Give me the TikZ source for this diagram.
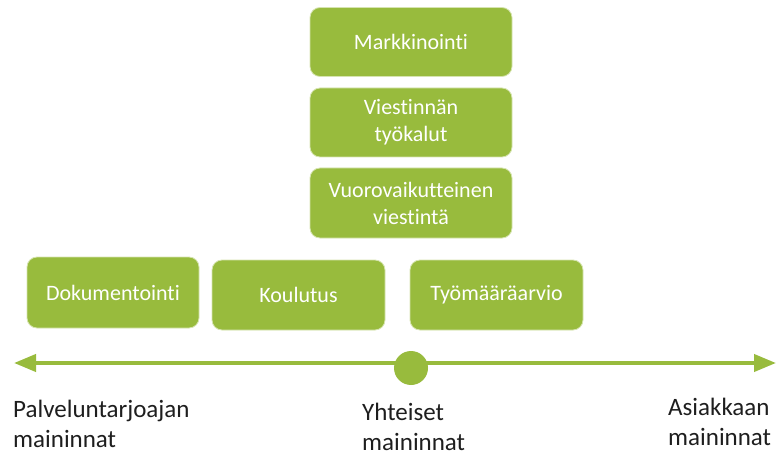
\documentclass[tikz,border=0pt]{standalone}
\usepackage{fontspec}
\setmainfont{Carlito}[Ligatures={NoCommon}]
\usetikzlibrary{arrows.meta}
\definecolor{leaf}{RGB}{152,187,61}
\definecolor{leafedge}{RGB}{214,228,176}
\definecolor{ink}{RGB}{30,30,30}
\tikzset{
  card/.style={rectangle, rounded corners=10pt, fill=leaf, draw=leafedge, line width=0.8pt,
    text=white, align=center, inner sep=0pt,
    font=\fontsize{22}{27}\selectfont},
  axislabel/.style={anchor=north west, align=left, inner sep=0pt, text=ink,
    font=\fontsize{25}{30}\selectfont},
  axis/.style={draw=leaf, line width=4pt,
    {Triangle[length=22pt,width=17pt]}-{Triangle[length=22pt,width=17pt]}}
}
\begin{document}
\begin{tikzpicture}[x=1pt,y=-1pt]
  \useasboundingbox (0,0) rectangle (776,457);

  % stacked column
  \node[card, minimum width=202pt, minimum height=69pt] (mark) at (411,42) {Markkinointi};
  \node[card, minimum width=202pt, minimum height=69pt] (tools) at (411,122.5) {Viestinnän\\työkalut};
  \node[card, minimum width=202pt, minimum height=70pt] (inter) at (411,203) {Vuorovaikutteinen\\viestintä};

  % bottom row
  \node[card, minimum width=172pt, minimum height=71pt] (doc) at (113,292.5) {Dokumentointi};
  \node[card, minimum width=173pt, minimum height=70pt] (train) at (298.5,295) {Koulutus};
  \node[card, minimum width=173pt, minimum height=70pt] (est) at (496.5,295) {Työmääräarvio};

  % axis
  \coordinate (lend) at (14,363);
  \coordinate (rend) at (776,363);
  \draw[axis] (lend) -- (rend);
  \node[circle, fill=leaf, minimum size=34pt, inner sep=0pt] (mid) at (411,368) {};

  % axis labels
  \node[axislabel] (prov) at (13,400) {Palveluntarjoajan\\maininnat};
  \node[axislabel] (common) at (362,403) {Yhteiset\\maininnat};
  \node[axislabel] (client) at (668,398) {Asiakkaan\\maininnat};
\end{tikzpicture}
\end{document}
